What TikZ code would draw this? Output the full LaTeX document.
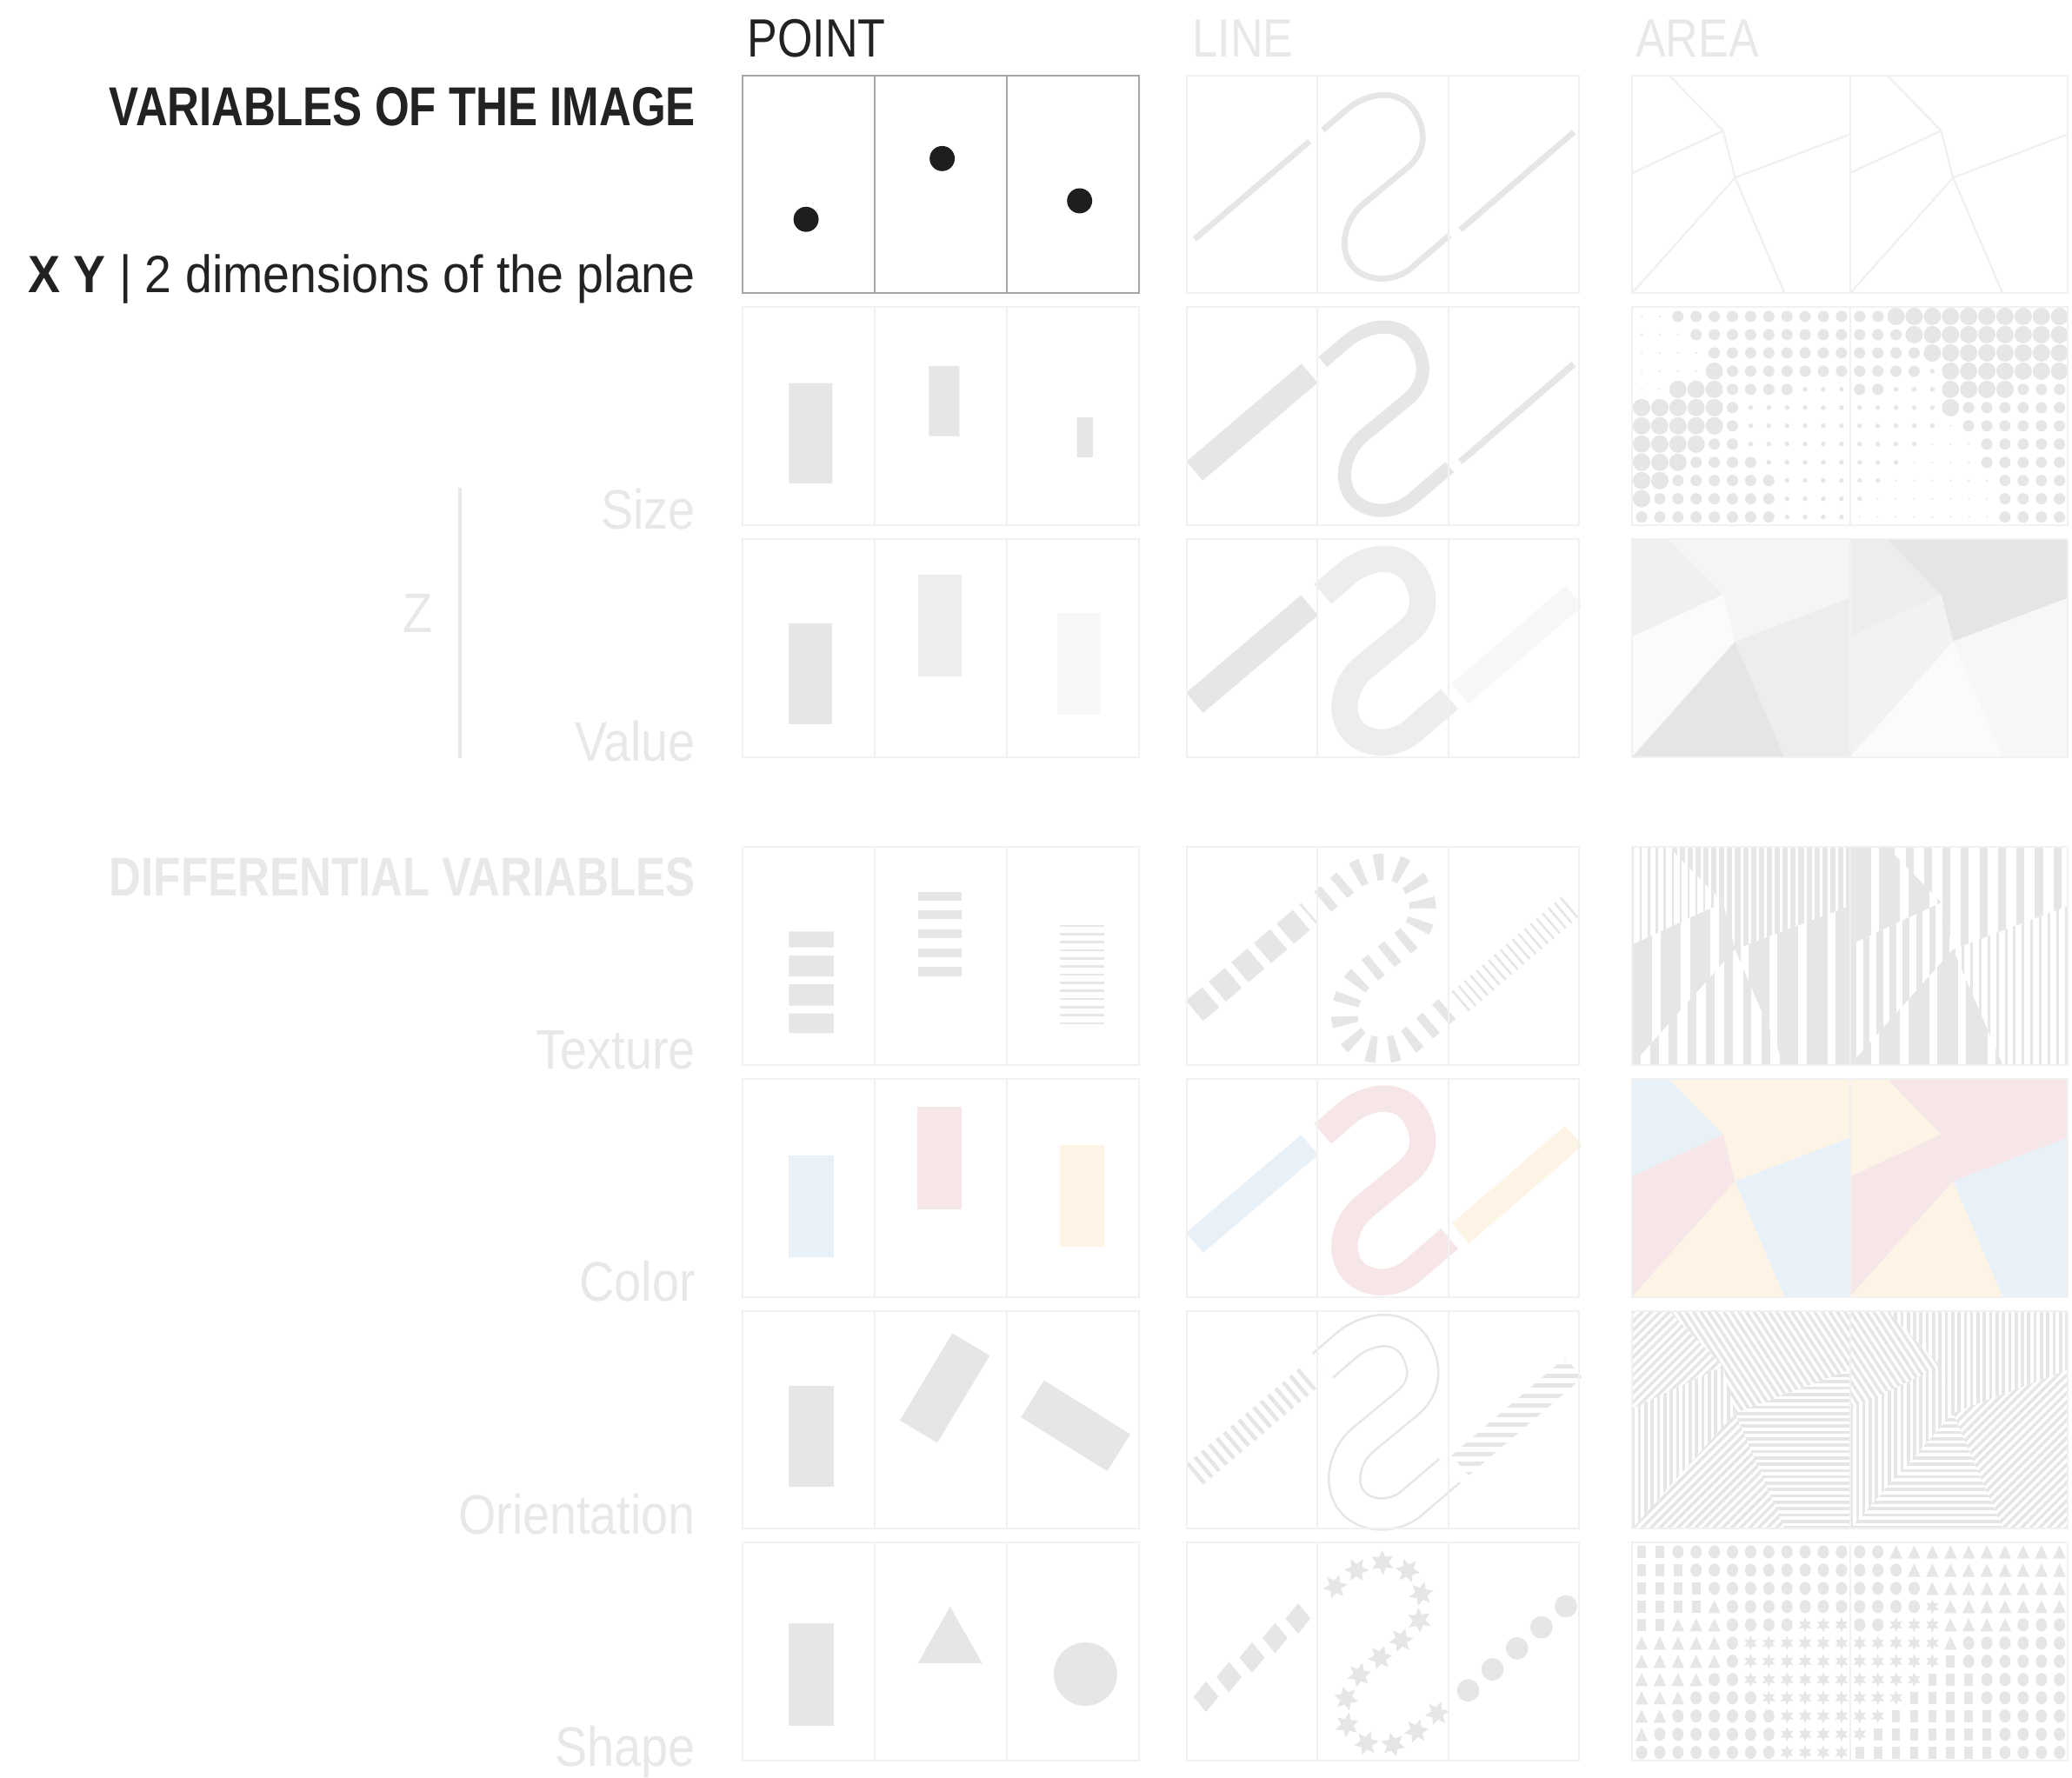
\documentclass[tikz,border=0pt]{standalone}
\usepackage{fontspec}
\setmainfont{Liberation Sans}
\newfontfamily\headfont{Liberation Sans}[FakeStretch=0.81]
\newfontfamily\capfont{Liberation Sans}[FakeStretch=0.84]
\newfontfamily\labelfont{Liberation Sans}[FakeStretch=0.87]
\newfontfamily\planefont{Liberation Sans}[FakeStretch=0.92]
\usepackage{tikz}
\usetikzlibrary{calc, decorations.markings}

\definecolor{visInk}{HTML}{222222}
\definecolor{visDot}{HTML}{1E1E1E}
\definecolor{visFrame}{HTML}{A6A6A6}
\definecolor{visFaint}{HTML}{F1F1F1}
\definecolor{visMark}{HTML}{E6E6E6}
\definecolor{visLabel}{HTML}{E8E8E8}
\definecolor{visBlue}{HTML}{E8F0F8}
\definecolor{visPink}{HTML}{F7E6E7}
\definecolor{visCream}{HTML}{FDF4E6}

\tikzset{
  markfill/.style={fill=visMark},
  markline/.style={draw=visMark, line cap=butt, line join=round},
  cellframe/.style={draw=visFaint, line width=0.13mm},
  arealine/.style={draw=visMark!60!white, line width=0.15mm},
  colhead/.style={anchor=base west, inner sep=0pt, text=visLabel,
    font=\capfont\fontsize{11.6pt}{14pt}\selectfont},
  sidehead/.style={anchor=base east, inner sep=0pt, text=visLabel,
    font=\headfont\bfseries\fontsize{11.8pt}{14pt}\selectfont},
  varlabel/.style={anchor=base east, inner sep=0pt, text=visLabel,
    font=\labelfont\fontsize{12pt}{14pt}\selectfont},
}

\newcommand{\areaRa}{(0,0) -- (28,0) -- (69,42) -- (0,74) -- cycle}
\newcommand{\areaRb}{(28,0) -- (165,0) -- (165,44.5) -- (78,77.5) -- (69,42) -- cycle}
\newcommand{\areaRc}{(0,74) -- (69,42) -- (78,77.5) -- (0,165) -- cycle}
\newcommand{\areaRd}{(0,165) -- (78,77.5) -- (115.5,165) -- cycle}
\newcommand{\areaRe}{(78,77.5) -- (165,44.5) -- (165,165) -- (115.5,165) -- cycle}
\newcommand{\snakepath}{(4,41.5) -- (22,26) .. controls (36,14) and (62,8) .. (74,28)
  .. controls (84,45) and (80,60) .. (68,70) -- (34,98) .. controls (20,110) and (14,135) .. (30,148)
  .. controls (44,158) and (62,154) .. (72,145) -- (100,121)}
\newcommand{\starmark}[1]{\fill[markfill] plot[samples at={0,...,11}, variable=\k]
  ({(1-0.5*mod(\k,2))*#1*cos(90+30*\k)}, {(1-0.5*mod(\k,2))*#1*sin(90+30*\k)}) -- cycle;}
\newcommand{\stripes}[3]{\begin{scope}\clip #1;
  \foreach \n in {0,...,40} {\fill[markfill] ({\n*#2},-1) rectangle ++(#3,167);}\end{scope}}
\newcommand{\hatches}[2]{\begin{scope}\clip #1;
  \foreach \n in {-26,...,26} {\draw[markline, line width=0.24mm, rotate around={#2:(82.5,82.5)}]
    (-40,{82.5+\n*4.8}) -- (205,{82.5+\n*4.8});}\end{scope}}
\newcommand{\panelframes}[1]{%
  \draw[cellframe] (562,#1) rectangle ++(300,165) (662,#1) -- ++(0,165) (762,#1) -- ++(0,165)
    (898,#1) rectangle ++(297,165) (997,#1) -- ++(0,165) (1096,#1) -- ++(0,165)
    (1235,#1) rectangle ++(330,165) (1400,#1) -- ++(0,165);}
\newcommand{\regionmatrix}{%
  {0,0,2,2,2,2,2,2,2,2,2,2,2,2,3,3,3,3,3,3,3,3,3,3},
  {0,0,0,2,2,2,2,2,2,2,2,2,2,2,2,3,3,3,3,3,3,3,3,3},
  {0,0,0,0,2,2,2,2,2,2,2,2,2,2,2,2,3,3,3,3,3,3,3,3},
  {0,0,0,0,3,2,2,2,2,2,2,2,2,2,2,2,1,3,3,3,3,3,3,3},
  {0,0,3,3,3,2,2,2,2,1,1,1,2,2,1,1,1,3,3,3,3,2,2,2},
  {3,3,3,3,3,2,1,1,1,1,1,1,1,1,1,1,1,3,2,2,2,2,2,2},
  {3,3,3,3,3,2,1,1,1,1,1,1,1,1,1,1,1,0,2,2,2,2,2,2},
  {3,3,3,3,2,2,1,1,1,1,1,1,1,1,1,1,0,0,0,2,2,2,2,2},
  {3,3,3,2,2,2,2,1,1,1,1,1,1,1,1,0,0,0,0,2,2,2,2,2},
  {3,3,2,2,2,2,2,2,1,1,1,1,1,1,0,0,0,0,0,0,2,2,2,2},
  {3,2,2,2,2,2,2,2,1,1,1,1,1,0,0,0,0,0,0,0,2,2,2,2},
  {2,2,2,2,2,2,2,2,1,1,1,1,0,0,0,0,0,0,0,0,2,2,2,2}}

\begin{document}
\begin{tikzpicture}[x=0.1mm, y=-0.1mm]
\useasboundingbox (0,0) rectangle (1568,1345);

\node[colhead, text=visInk] (pointHead) at (565,42.8) {POINT};
\node[colhead] (lineHead) at (902,42.8) {LINE};
\node[colhead] (areaHead) at (1237,42.8) {AREA};
\node[sidehead, text=visInk] (imageHead) at (527,95.4) {VARIABLES OF THE IMAGE};
\node[varlabel, text=visInk, font=\planefont\fontsize{11.3pt}{14pt}\selectfont] (planeLabel)
  at (527,221.5) {{\bfseries X Y} | 2 dimensions of the plane};
\node[varlabel] (sizeLabel) at (527,400.5) {Size};
\node[varlabel] (zLabel) at (328,478.6) {Z};
\node[varlabel] (valueLabel) at (527,576) {Value};
\node[sidehead] (diffHead) at (527,678) {DIFFERENTIAL VARIABLES};
\node[varlabel] (textureLabel) at (527,809) {Texture};
\node[varlabel] (colorLabel) at (527,985) {Color};
\node[varlabel] (orientLabel) at (527,1161) {Orientation};
\node[varlabel] (shapeLabel) at (527,1336.5) {Shape};
\coordinate (zTop) at (348,369);
\coordinate (zBottom) at (348,573.5);
\draw[visLabel, line width=0.25mm] (zTop) -- (zBottom);

% x y
\begin{scope}[shift={(0,57)}]
  \fill[visDot] (610,109) circle[radius=9.5] (713,63) circle[radius=9.5] (817,95) circle[radius=9.5];
  \draw[markline, line width=0.45mm] (904,124) -- (991,50) (1105,117) -- (1191,43);
  \draw[markline, line width=0.45mm, shift={(997,0)}] \snakepath;
  \foreach \hx in {1235,1400}
    \draw[arealine, shift={(\hx,0)}] (28,0) -- (69,42) -- (0,74) (69,42) -- (78,77.5) -- (165,44.5)
      (78,77.5) -- (0,165) (78,77.5) -- (115.5,165);
\end{scope}

% size
\begin{scope}[shift={(0,232.5)}]
  \fill[markfill] (597,57.5) rectangle (630,133.5) (703,44.5) rectangle (726,97.5)
    (815,83.5) rectangle (827,113.5);
  \draw[markline, line width=1.9mm] (904,124) -- (991,50);
  \draw[markline, line width=1mm, shift={(997,0)}] \snakepath;
  \draw[markline, line width=0.5mm] (1105,117) -- (1191,43);
  \begin{scope}[shift={(1235,0)}]
    \foreach [count=\j from 0] \cellrow in \regionmatrix
      \foreach [count=\i from 0] \s in \cellrow {
        \pgfmathsetmacro\rr{{0.8,1.8,4.3,6.6}[\s]}
        \fill[markfill] ({7.3+13.75*\i},{7+13.8*\j}) circle[radius=\rr];
      }
  \end{scope}
\end{scope}

% value
\begin{scope}[shift={(0,408)}]
  \fill[markfill] (597,64) rectangle (630,140);
  \fill[black!7] (695,27) rectangle (728,104);
  \fill[black!3] (800,56) rectangle (833,133);
  \draw[markline, line width=2mm] (904,124) -- (991,50);
  \draw[markline, draw=black!7, line width=2mm, shift={(997,0)}] \snakepath;
  \draw[markline, draw=black!3, line width=2mm] (1105,117) -- (1191,43);
  \begin{scope}[shift={(1235,0)}]
    \fill[black!6] \areaRa; \fill[black!4] \areaRb; \fill[black!1.5] \areaRc;
    \fill[black!10] \areaRd; \fill[black!7] \areaRe;
  \end{scope}
  \begin{scope}[shift={(1400,0)}]
    \fill[black!7] \areaRa; \fill[black!10] \areaRb; \fill[black!5] \areaRc;
    \fill[black!1.5] \areaRd; \fill[black!3] \areaRe;
  \end{scope}
\end{scope}

% texture
\begin{scope}[shift={(0,641)}]
  \fill[markfill] (597,64) rectangle (631,76) (597,82) rectangle (631,98)
    (597,104) rectangle (631,120) (597,126) rectangle (631,141);
  \foreach \yy in {34,48,62.3,76.8,91} \fill[markfill] (695,\yy) rectangle ++(33,6.8);
  \foreach \k in {0,...,12} \fill[markfill] (802,{59+6.14*\k}) rectangle ++(33.5,1.6);
  \draw[markline, line width=2mm, dash pattern=on 1.6mm off 0.65mm] (904,124) -- (991,50);
  \draw[markline, line width=2mm, dash pattern=on 0.65mm off 0.95mm, shift={(997,0)}] \snakepath;
  \draw[markline, line width=2mm, dash pattern=on 0.17mm off 0.43mm] (1105,117) -- (1191,43);
  \begin{scope}[shift={(1235,0)}]
    \stripes{\areaRa}{6}{1.6} \stripes{\areaRb}{6}{4} \stripes{\areaRc}{22}{15}
    \stripes{\areaRd}{14}{6.5} \stripes{\areaRe}{22}{16}
  \end{scope}
  \begin{scope}[shift={(1400,0)}]
    \stripes{\areaRa}{22}{16} \stripes{\areaRb}{14}{6} \stripes{\areaRc}{10}{5}
    \stripes{\areaRd}{22}{16} \stripes{\areaRe}{6.5}{2}
  \end{scope}
\end{scope}

% color
\begin{scope}[shift={(0,816.5)}]
  \fill[visBlue] (597,58) rectangle (631,135);
  \fill[visPink] (694.5,21) rectangle (728,98.5);
  \fill[visCream] (802,50) rectangle (835.5,127);
  \draw[markline, draw=visBlue, line width=2mm] (904,124) -- (991,50);
  \draw[markline, draw=visPink, line width=2mm, shift={(997,0)}] \snakepath;
  \draw[markline, draw=visCream, line width=2mm] (1105,117) -- (1191,43);
  \begin{scope}[shift={(1235,0)}]
    \fill[visBlue] \areaRa; \fill[visCream] \areaRb; \fill[visPink] \areaRc;
    \fill[visCream] \areaRd; \fill[visBlue] \areaRe;
  \end{scope}
  \begin{scope}[shift={(1400,0)}]
    \fill[visCream] \areaRa; \fill[visPink] \areaRb; \fill[visPink] \areaRc;
    \fill[visCream] \areaRd; \fill[visBlue] \areaRe;
  \end{scope}
\end{scope}

% orientation
\begin{scope}[shift={(0,992)}]
  \fill[markfill] (597,57) rectangle (631,133.5);
  \fill[markfill, rotate around={-31:(715,58.5)}] (698.5,20) rectangle (731.5,97);
  \fill[markfill, rotate around={58:(814,87)}] (797.5,48.5) rectangle (830.5,125.5);
  \draw[markline, line width=2mm, dash pattern=on 0.3mm off 0.43mm] (904,124) -- (991,50);
  \draw[markline, line width=0.17mm, double=white, double distance=2.2mm, shift={(997,0)}] \snakepath;
  \begin{scope}
    \clip (1098.5,109.4) -- (1184.5,35.4) -- (1197.5,50.6) -- (1111.5,124.6) -- cycle;
    \foreach \k in {0,...,13} \fill[markfill] (1090,{33+7.4*\k}) rectangle ++(115,3.2);
  \end{scope}
  \begin{scope}[shift={(1235,0)}]
    \hatches{\areaRa}{45} \hatches{\areaRb}{-57} \hatches{\areaRc}{90}
    \hatches{\areaRd}{45} \hatches{\areaRe}{0}
  \end{scope}
  \begin{scope}[shift={(1400,0)}]
    \hatches{\areaRa}{-57} \hatches{\areaRb}{90} \hatches{\areaRc}{90}
    \hatches{\areaRd}{0} \hatches{\areaRe}{45}
  \end{scope}
\end{scope}

% shape
\begin{scope}[shift={(0,1167.5)}]
  \fill[markfill] (597,61) rectangle (631,138.5);
  \fill[markfill] (719,48.5) -- (743.3,91.3) -- (694.5,91.3) -- cycle;
  \fill[markfill] (821.4,99.5) circle[radius=24];
  \foreach \t in {0.1,0.3,0.5,0.7,0.9}
    \fill[markfill] ($(904,124)!\t!(991,50)$) +(0,-11.5) -- +(9.5,0) -- +(0,11.5) -- +(-9.5,0) -- cycle;
  \path[postaction={decorate}, decoration={markings,
    mark=between positions 0.04 and 0.96 step 0.0657 with {\starmark{9.5}}}, shift={(997,0)}] \snakepath;
  \foreach \t in {0.07,0.285,0.5,0.715,0.93}
    \fill[markfill] ($(1105,117)!\t!(1191,43)$) circle[radius=8.5];
  \begin{scope}[shift={(1235,0)}]
    \foreach [count=\j from 0] \cellrow in \regionmatrix
      \foreach [count=\i from 0] \s in \cellrow {
        \pgfmathsetmacro\cx{7.3+13.75*\i}
        \pgfmathsetmacro\cy{7+13.8*\j}
        \ifcase\s\relax
          \fill[markfill] ({\cx-3.2},{\cy-4.5}) rectangle ++(6.4,9);
        \or
          \begin{scope}[shift={(\cx,\cy)}]\starmark{5.5}\end{scope}
        \or
          \fill[markfill] (\cx,\cy) ellipse[x radius=4.3, y radius=5];
        \else
          \fill[markfill] (\cx,{\cy-5}) -- ({\cx+4.8},{\cy+5}) -- ({\cx-4.8},{\cy+5}) -- cycle;
        \fi
      }
  \end{scope}
\end{scope}

\foreach \rowtop in {57,232.5,408,641,816.5,992,1167.5} {\panelframes{\rowtop}}
\draw[cellframe, draw=visFrame] (562,57) rectangle ++(300,165) (662,57) -- ++(0,165) (762,57) -- ++(0,165);
\end{tikzpicture}
\end{document}
